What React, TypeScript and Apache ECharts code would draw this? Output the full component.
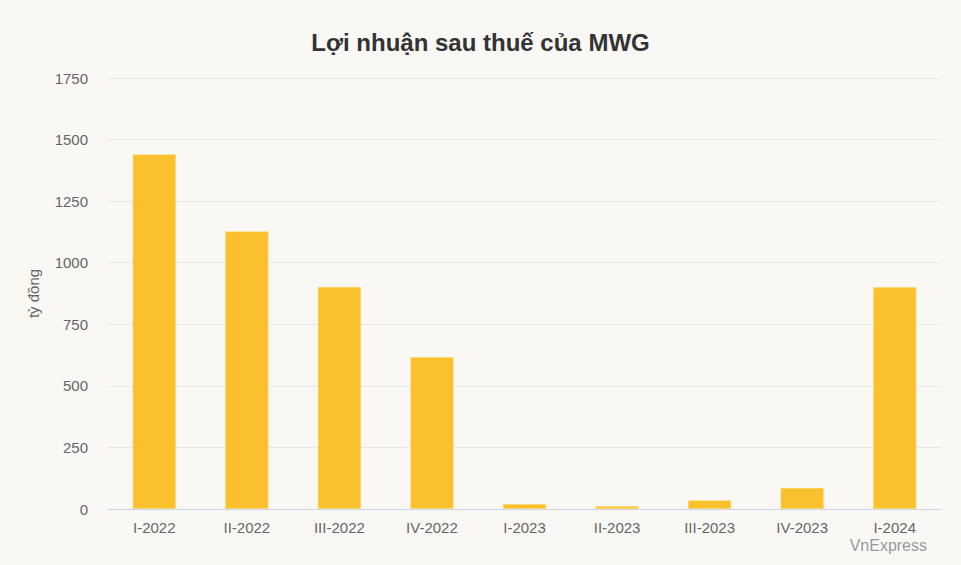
import React, { useEffect, useRef } from "react";
import * as echarts from "echarts";

const categories = ["I-2022", "II-2022", "III-2022", "IV-2022", "I-2023", "II-2023", "III-2023", "IV-2023", "I-2024"];
const profit = [1440, 1128, 902, 617, 20, 12, 36, 86, 901];
const yTicks = [0, 250, 500, 750, 1000, 1250, 1500, 1750];

export default function App() {
  const ref = useRef<HTMLDivElement>(null);
  useEffect(() => {
    if (!ref.current) return;
    const chart = echarts.init(ref.current, null, { renderer: "svg" });
    const font = "Liberation Sans, Arial, sans-serif";
    chart.setOption({
      animation: false,
      backgroundColor: "#FAF8F5",
      title: {
        text: "Lợi nhuận sau thuế của MWG",
        left: "center",
        top: 25,
        textStyle: { fontFamily: font, fontSize: 24, fontWeight: "bold", color: "#333333" },
      },
      grid: { left: 108, right: 20, top: 78, bottom: 56 },
      xAxis: {
        type: "category",
        data: categories,
        axisLine: { lineStyle: { color: "#C9D4E6", width: 1 } },
        axisTick: { show: false },
        axisLabel: { color: "#666666", fontSize: 15, fontFamily: font, margin: 11 },
      },
      yAxis: {
        type: "value",
        min: yTicks[0],
        max: yTicks[yTicks.length - 1],
        interval: 250,
        name: "tỷ đồng",
        nameLocation: "middle",
        nameRotate: 90,
        nameGap: 67,
        nameTextStyle: { color: "#666666", fontSize: 15, fontFamily: font },
        axisLine: { show: false },
        axisTick: { show: false },
        splitLine: { lineStyle: { color: "#E6E6E6", width: 1 } },
        axisLabel: { color: "#666666", fontSize: 15, fontFamily: font, margin: 20, formatter: (v: number) => String(v) },
      },
      series: [
        {
          type: "bar",
          data: profit,
          barWidth: "47%",
          itemStyle: { color: "#FBC02D", borderColor: "#FFD966", borderWidth: 1, borderType: "dotted" },
        },
      ],
      graphic: [
        {
          type: "text",
          right: 34,
          top: 537,
          style: { text: "VnExpress", fill: "#999999", fontSize: 16, fontFamily: font },
        },
      ],
    });
    return () => chart.dispose();
  }, []);
  return <div ref={ref} style={{ width: 961, height: 565, position: "absolute", left: 0, top: 0 }} />;
}
